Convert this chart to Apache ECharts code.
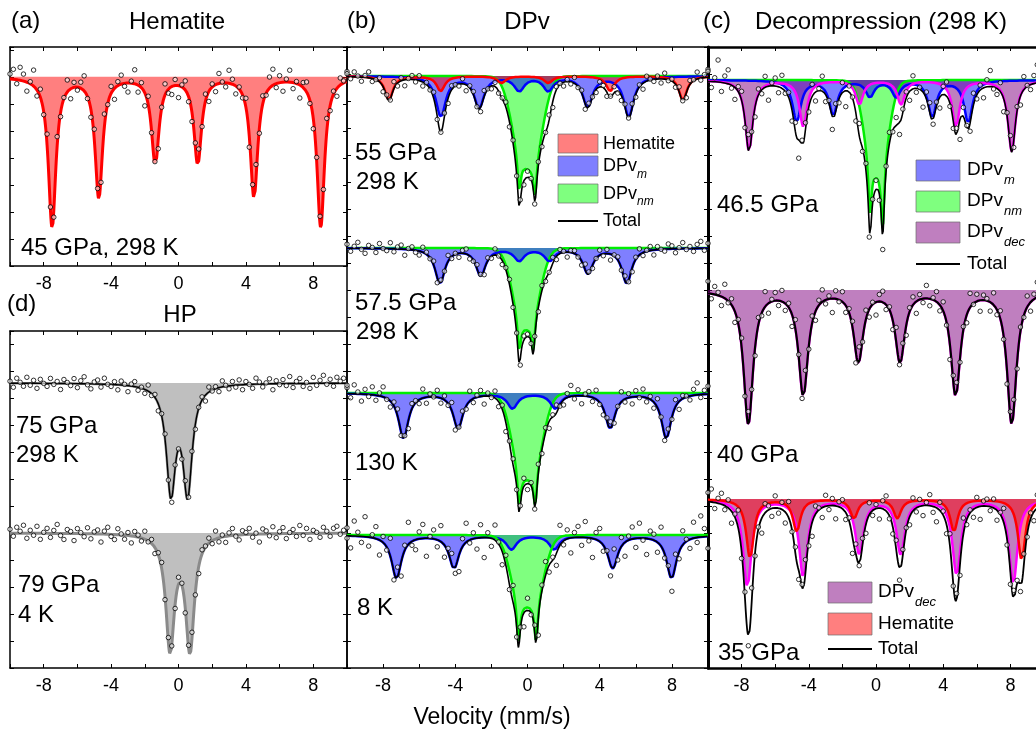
<!DOCTYPE html>
<html><head><meta charset="utf-8">
<script src="https://cdn.jsdelivr.net/npm/echarts@6/dist/echarts.min.js"></script>
<style>html,body{margin:0;padding:0;background:#fff}#c{width:1036px;height:732px}</style>
</head><body><div id="c"></div>
<script>
// ---------------- DATA ----------------
// velocity axis (mm/s)
const velocityRange = [-10, 10];
const velocityTickLabels = [-8, -4, 0, 4, 8];

// Fitted lines: [position (mm/s), amplitude (arb.), width (mm/s), shape 0=Lorentzian HWHM / 1=Gaussian sigma]
// (a) Hematite, 45 GPa, 298 K
const hematiteA = [[-7.5,150,0.27,0],[-4.73,120,0.27,0],[-1.38,86,0.27,0],[1.14,86,0.27,0],[4.48,120,0.27,0],[8.44,150,0.27,0]];
// (b) DPv 55 GPa 298 K
const hematiteB1 = [[-7.68,24,0.27,0],[-4.81,15,0.27,0],[-1.44,7,0.27,0],[1.15,7,0.27,0],[4.58,15,0.27,0],[8.61,24,0.27,0]];
const dpvmB1 = [[-4.8,40,0.33,0],[-2.68,31,0.33,0],[-0.46,14,0.33,0],[1.15,14,0.33,0],[3.33,30,0.33,0],[5.61,40,0.33,0]];
const dpvnmB1 = [[-0.46,62,0.5,1],[0.42,68,0.5,1],[-0.46,37,0.12,0],[0.42,37,0.12,0]];
// (b) 57.5 GPa 298 K
const dpvmB2 = [[-4.85,35,0.33,0],[-2.59,27,0.33,0],[-0.46,12,0.33,0],[1.21,12,0.33,0],[3.35,25,0.33,0],[5.5,35,0.33,0]];
const dpvnmB2 = [[-0.46,53,0.48,1],[0.32,53,0.48,1],[-0.46,34,0.12,0],[0.32,34,0.12,0]];
// (b) 130 K
const dpvmB3 = [[-6.87,45,0.33,0],[-3.85,35,0.33,0],[-0.83,15,0.33,0],[1.54,15,0.33,0],[4.58,35,0.33,0],[7.69,45,0.33,0]];
const dpvnmB3 = [[-0.46,61,0.5,1],[0.43,61,0.5,1],[-0.46,38,0.12,0],[0.43,38,0.12,0]];
// (b) 8 K
const dpvmB4 = [[-7.26,43,0.33,0],[-4.07,33,0.33,0],[-0.89,14,0.33,0],[1.48,14,0.33,0],[4.72,33,0.33,0],[7.98,43,0.33,0]];
const dpvnmB4 = [[-0.5,54,0.5,1],[0.48,55,0.5,1],[-0.5,43,0.12,0],[0.48,43,0.12,0]];
// (c) 46.5 GPa
const dpvmC1 = [[-4.72,41,0.3,0],[-2.54,34,0.3,0],[-0.36,16,0.3,0],[1.2,16,0.3,0],[3.35,36,0.3,0],[5.49,42,0.3,0]];
const dpvnmC1 = [[-0.36,60,0.46,1],[0.4,62,0.46,1],[-0.36,55,0.12,0],[0.4,69,0.12,0]];
const dpvdecC1 = [[-7.56,71,0.27,0],[-4.33,46,0.27,0],[-0.99,24,0.27,0],[1.49,24,0.27,0],[4.76,46,0.27,0],[8.08,71,0.27,0]];
// (c) 40 GPa
const dpvdecC2 = [[-7.6,133,0.34,0],[-4.33,104,0.34,0],[-1.05,70,0.34,0],[1.43,70,0.34,0],[4.74,104,0.34,0],[8.08,133,0.34,0]];
// (c) 35 GPa
const dpvdecC3 = [[-7.66,87,0.3,0],[-4.33,77,0.3,0],[-0.99,54,0.3,0],[1.47,54,0.3,0],[4.8,75,0.3,0],[8.17,84,0.3,0]];
const hematiteC3 = [[-7.5,59,0.27,0],[-4.72,32,0.27,0],[-1.31,19,0.27,0],[1.27,19,0.27,0],[4.64,32,0.27,0],[8.67,61,0.27,0]];
// (d) HP
const hpD1 = [[-0.45,106,0.33,0],[0.54,106,0.33,0]];
const hpD2 = [[-0.5,114,0.31,0],[0.68,114,0.31,0]];

// Measured points: residuals from the fit at equally spaced channels across the velocity range
const resA = [5,10,-4,13,7,-9,2,16,-6,8,-3,11,3,-7,9,-4,1,12,-10,5,-3,6,15,-2,-8,10,3,-6,13,-1,7,-11,4,9,-3,-9,2,14,-7,5,-13,8,-2,3,-10,1,11,-4,-8,6,-12,2,9,-5,-9,4,12,-3,7,-10,3,-7,10,1,-4,13,5,-8,2,-3,9,-11,4,14,-5,8,-2,11,16,-4,7,-9,3,12,-6,2,-13,5,10,-3,-10,4,8,-1,13,-5,3,-8,7,2,10];
const resB1 = [3,-2,5,1,-4,2,6,-3,0,4,-5,2,-1,7,-3,3,-6,1,4,-2,5,-4,2,-1,6,-3,0,3,-5,4,1,-2,5,-6,2,3,-1,-4,6,0,-3,4,-2,1,5,-5,3,-1,2,-4,6,1,-3,4,-2,0,5,-6,3,1,-4,2,-2,6,-1,3,-5,4,0,-3,5,2,-4,1,6,-2,-5,3,0,4,-3,2,-6,5,1,-2,3,-4,6,-1,2,-3,5,0,-5,4,1,7,-2,3,8];
const resB2 = [4,-3,2,6,-1,-5,3,1,-4,5,0,-2,6,-3,2,4,-6,1,3,-2,-4,5,2,-1,4,-5,3,0,6,-2,1,-4,3,5,-3,-1,4,2,-5,3,-2,6,0,-4,2,5,-3,1,-6,4,2,-1,3,-4,5,-2,0,6,-3,4,1,-5,2,3,-1,-4,6,2,-3,0,5,-2,4,-6,1,3,-2,5,-1,-4,2,6,-3,1,4,-5,3,0,-2,5,3,-4,1,6,-1,2,-3,4,7,-2,5];
const resB3 = [6,-4,9,2,-7,5,-2,8,-5,3,10,-1,-6,4,7,-3,1,-8,5,2,-4,9,-6,3,0,7,-5,4,-2,8,-7,1,5,-3,10,-4,2,6,-8,3,-1,7,-5,4,-9,2,6,-3,1,8,-6,3,-2,9,-4,5,-7,2,8,-1,-5,4,11,-3,6,-8,2,5,-4,9,-2,-6,3,7,-5,1,10,-3,4,-7,6,-1,8,-4,3,-6,9,2,-5,5,-2,7,-8,3,1,-4,6,12,-3,4,8];
const resB4 = [8,-12,15,4,-6,20,-9,3,12,-15,6,-3,18,-8,10,-14,5,22,-4,-10,7,14,-18,2,9,-7,16,-12,4,11,-6,-16,8,19,-3,6,-11,13,-20,5,-8,15,2,-13,10,-5,17,-9,4,-14,12,-2,8,-17,6,14,-7,3,-12,20,-4,9,-15,5,11,-8,16,-3,-19,7,13,-6,2,-11,18,-5,9,-14,4,12,-9,15,-2,-16,8,6,-10,19,-4,3,-13,11,-7,14,2,-9,16,-5,21,8,-12];
const resC1 = [10,-6,4,22,-9,7,14,-3,-12,5,9,-7,16,2,-10,6,-4,11,-14,3,8,-6,13,-2,5,-11,9,-18,4,7,-5,12,-9,2,15,-7,3,-13,8,-4,10,-16,6,1,-8,12,-3,7,-10,4,9,-6,-14,5,11,-2,8,-12,3,6,-9,13,-4,2,-15,7,10,-5,4,-11,8,14,-3,-7,6,-20,9,2,-8,12,-4,5,-10,7,16,-2,-6,9,-13,3,11,-7,4,-9,13,1,-5,8,18,-3,6];
const resC2 = [12,-5,8,3,-9,14,-2,6,-11,4,9,-6,13,1,-8,7,-3,15,-10,2,8,-5,11,-7,4,-12,9,2,-6,13,-3,7,-9,5,12,-4,3,-14,8,-2,10,-7,4,6,-11,15,-3,9,-8,2,-13,7,11,-5,3,-9,14,-2,6,-10,4,8,-12,5,-4,13,-7,2,10,-6,9,-3,-15,6,11,-4,3,-8,14,-1,7,-11,5,2,-9,12,-5,8,-3,-13,6,10,-7,4,-2,11,-9,5,15,-4,7];
const resC3 = [9,13,-6,5,11,-4,8,-12,3,18,-7,6,-10,14,-3,2,-15,9,4,-8,12,-5,7,-11,16,-2,6,-9,3,13,-6,-14,8,2,-10,11,-4,7,-13,5,9,-7,3,-16,10,-2,6,-9,12,-5,4,-11,8,15,-3,-7,9,-12,5,2,-8,13,-4,7,-10,3,11,-6,-14,8,4,-9,12,-2,6,-11,16,-5,3,-8,10,-13,5,7,-4,9,-10,2,14,-6,-12,8,3,-7,11,-3,6,-9,13,4,-5];
const resD1 = [2,-4,5,1,-3,6,-2,3,-5,4,0,-3,5,-1,2,-6,4,1,-2,5,-4,3,7,-1,-5,2,4,-3,6,0,-2,3,-5,4,1,-6,2,5,-3,1,-4,6,-2,3,-7,2,5,-1,-4,3,0,-3,6,-2,4,-5,1,3,-6,5,-1,2,-4,6,1,-3,4,-2,5,-5,3,0,-4,6,2,-3,1,5,-6,3,-1,4,-2,7,-4,2,5,-3,1,-5,6,-2,3,8,-1,4,-3,6,2,5,-2];
const resD2 = [4,-3,6,2,8,-5,3,-2,7,-6,1,5,-4,3,9,-2,-6,4,2,-7,5,1,-3,6,-5,2,4,-8,3,7,-2,-5,6,1,-4,3,-7,5,2,-3,8,-1,4,-6,2,6,-3,5,-1,-4,7,2,-5,3,6,-2,-7,4,1,5,-3,8,-4,2,-6,3,7,-1,-5,4,2,6,-3,1,-8,5,3,-2,7,-4,2,6,-5,1,4,-3,8,-2,5,-6,3,1,-4,6,2,-3,5,7,-1,3,-5];

// ---------------- LAYOUT / STYLE ----------------
const FONT = '"Liberation Sans", Arial, Helvetica, sans-serif';
const grids = [
  {left:10, top:47, width:337, height:219},   // (a)
  {left:347, top:47, width:361, height:621},  // (b)
  {left:708, top:47, width:336, height:621},  // (c)
  {left:10, top:331, width:337, height:337}   // (d)
];
const compStyle = {
  hem:{line:'#ff0000', fill:'rgba(255,0,0,0.5)'},
  m:{line:'#0000ff', fill:'rgba(0,0,255,0.5)'},
  nm:{line:'#00ee00', fill:'rgba(0,255,0,0.5)'},
  dec:{line:'#ff00ff', fill:'rgba(128,0,128,0.5)'},
  hp:{line:'#8a8a8a', fill:'rgba(128,128,128,0.5)'}
};
const spectra = [
  {g:0, base:189.3, res:resA, comps:[['hem',hematiteA]], total:0, lw:3},
  {g:1, base:592, res:resB1, comps:[['nm',dpvnmB1],['m',dpvmB1],['hem',hematiteB1]], total:1.6},
  {g:1, base:420, res:resB2, comps:[['nm',dpvnmB2],['m',dpvmB2]], total:1.6},
  {g:1, base:275, res:resB3, comps:[['nm',dpvnmB3],['m',dpvmB3]], total:1.6},
  {g:1, base:133, res:resB4, comps:[['m',dpvmB4],['nm',dpvnmB4]], total:1.6},
  {g:2, base:588, res:resC1, comps:[['nm',dpvnmC1],['m',dpvmC1],['dec',dpvdecC1]], total:1.6},
  {g:2, base:378, res:resC2, comps:[['dec',dpvdecC2]], total:2.2},
  {g:2, base:169, res:resC3, comps:[['dec',dpvdecC3],['hem',hematiteC3]], total:1.8},
  {g:3, base:285, res:resD1, comps:[['hp',hpD1]], total:1.4},
  {g:3, base:135, res:resD2, comps:[['hp',hpD2]], total:0, lw:3}
];

function profile(lines, v) {
  let s = 0;
  for (const [p, a, w, sh] of lines) {
    const d = v - p;
    s += sh === 1 ? a * Math.exp(-d * d / (2 * w * w)) : a * w * w / (d * d + w * w);
  }
  return s;
}
const curveV = [];
for (let i = 0; i <= 800; i++) curveV.push(velocityRange[0] + (velocityRange[1] - velocityRange[0]) * i / 800);

const xAxes = [], yAxes = [];
grids.forEach((gr, g) => {
  const common = {
    type:'value', gridIndex:g, min:velocityRange[0], max:velocityRange[1], interval:2,
    axisLine:{show:true, onZero:false, lineStyle:{color:'#000', width: g===2?2.5:1.5}},
    axisTick:{show:true, inside:true, length:4, lineStyle:{color:'#000', width:1}},
    splitLine:{show:false}
  };
  xAxes.push(Object.assign({}, common, {position:'bottom',
    axisLabel:{show:true, margin:9, color:'#000', fontSize:18, fontFamily:FONT, hideOverlap:false,
      formatter:(v)=> velocityTickLabels.includes(v) ? String(v) : ''}}));
  xAxes.push(Object.assign({}, common, {position:'top', axisLabel:{show:false}}));
  const yc = {
    type:'value', gridIndex:g, min:0, max:gr.height, interval:27,
    axisTick:{show:true, inside:true, length:4, lineStyle:{color:'#000', width:1}},
    axisLabel:{show:false}, splitLine:{show:false}
  };
  yAxes.push(Object.assign({}, yc, {position:'left', axisLine:{show:true, onZero:false, lineStyle:{color:'#000', width: g===2?3:1.5}}}));
  yAxes.push(Object.assign({}, yc, {position:'right', axisLine:{show:true, onZero:false, lineStyle:{color:'#000', width:1.5}}}));
});

const series = [];
spectra.forEach(sp => {
  const xi = sp.g * 2, yi = sp.g * 2;
  sp.comps.forEach(([key, lines]) => {
    const st = compStyle[key];
    series.push({
      type:'line', xAxisIndex:xi, yAxisIndex:yi, showSymbol:false, symbol:'none', silent:true,
      data: curveV.map(v => [v, sp.base - profile(lines, v)]),
      lineStyle:{color:st.line, width: sp.lw || 2.5},
      areaStyle:{color:st.fill, opacity:1, origin: sp.base},
      z:2
    });
  });
  const all = [].concat(...sp.comps.map(c => c[1]));
  if (sp.total) {
    series.push({
      type:'line', xAxisIndex:xi, yAxisIndex:yi, showSymbol:false, symbol:'none', silent:true,
      data: curveV.map(v => [v, sp.base - profile(all, v)]),
      lineStyle:{color:'#000', width:sp.total}, z:3
    });
  }
  const n = sp.res.length;
  series.push({
    type:'scatter', xAxisIndex:xi, yAxisIndex:yi, silent:true, symbol:'circle', symbolSize:4.5,
    itemStyle:{color:'rgba(255,255,255,0.6)', borderColor:'#000', borderWidth:0.8, opacity:1},
    data: sp.res.map((r, i) => {
      const v = velocityRange[0] + (velocityRange[1] - velocityRange[0]) * i / (n - 1);
      return [v, sp.base - profile(all, v) + r];
    }),
    z:4
  });
});

// ---------- texts & legends ----------
function txt(text, x, y, size, align, extra) {
  return Object.assign({type:'text', z:100, silent:true,
    style:{text, x, y, fill:'#000', font: (extra && extra.italic ? 'italic ' : '') + size + 'px ' + FONT,
      textAlign: align || 'left', textVerticalAlign:'middle'}});
}
function swatch(x, y, w, h, fill) {
  return {type:'rect', z:100, silent:true, shape:{x, y, width:w, height:h},
    style:{fill, stroke:'rgba(110,110,110,0.7)', lineWidth:1}};
}
function hline(x1, x2, y) {
  return {type:'line', z:100, silent:true, shape:{x1, y1:y, x2, y2:y}, style:{stroke:'#000', lineWidth:2}};
}
const graphics = [
  txt('(a)', 11, 21, 24), txt('Hematite', 177, 22, 24, 'center'),
  txt('(b)', 347, 21, 24), txt('DPv', 527, 22, 24, 'center'),
  txt('(c)', 703, 21, 24), txt('Decompression (298 K)', 881, 22, 24, 'center'),
  txt('(d)', 7, 304, 24), txt('HP', 180, 315, 24, 'center'),
  txt('45 GPa, 298 K', 21, 248, 24),
  txt('55 GPa', 355, 153, 24), txt('298 K', 356, 182, 24),
  txt('57.5 GPa', 355, 303, 24), txt('298 K', 356, 332, 24),
  txt('130 K', 355, 463, 24), txt('8 K', 357, 608, 24),
  txt('46.5 GPa', 717, 205, 24), txt('40 GPa', 717, 455, 24), txt('35 GPa', 718, 653, 24),
  txt('75 GPa', 16, 426, 24), txt('298 K', 16, 455, 24),
  txt('79 GPa', 18, 585, 24), txt('4 K', 18, 615, 24),
  txt('Velocity (mm/s)', 492, 718, 23, 'center'),
  // legend (b)
  swatch(558, 134, 40, 19, compStyle.hem.fill), txt('Hematite', 603, 144, 18),
  swatch(558, 156, 40, 20, compStyle.m.fill), txt('DPv', 603, 166, 18), txt('m', 637, 175, 12, 'left', {italic:true}),
  swatch(558, 184, 40, 19, compStyle.nm.fill), txt('DPv', 603, 194, 18), txt('nm', 637, 202, 12, 'left', {italic:true}),
  hline(558, 598, 221), txt('Total', 603, 221, 18),
  // legend (c) 46.5 GPa
  swatch(916, 160, 44, 21, compStyle.m.fill), txt('DPv', 967, 170, 19), txt('m', 1004, 180, 13, 'left', {italic:true}),
  swatch(916, 191, 44, 21, compStyle.nm.fill), txt('DPv', 967, 201, 19), txt('nm', 1004, 211, 13, 'left', {italic:true}),
  swatch(916, 222, 44, 21, compStyle.dec.fill), txt('DPv', 967, 232, 19), txt('dec', 1004, 242, 13, 'left', {italic:true}),
  hline(916, 960, 264), txt('Total', 967, 264, 19),
  // legend (c) 35 GPa
  swatch(828, 582, 44, 21, compStyle.dec.fill), txt('DPv', 878, 592, 19), txt('dec', 915, 602, 13, 'left', {italic:true}),
  swatch(828, 613, 44, 22, compStyle.hem.fill), txt('Hematite', 878, 624, 19),
  hline(828, 872, 649), txt('Total', 878, 649, 19)
];

const chart = echarts.init(document.getElementById('c'), null, {renderer:'canvas'});
chart.setOption({
  animation:false,
  backgroundColor:'#fff',
  textStyle:{fontFamily:FONT},
  grid: grids.map(g => Object.assign({containLabel:false, outerBoundsMode:'none'}, g)),
  xAxis: xAxes,
  yAxis: yAxes,
  series,
  graphic: graphics
});
</script></body></html>
